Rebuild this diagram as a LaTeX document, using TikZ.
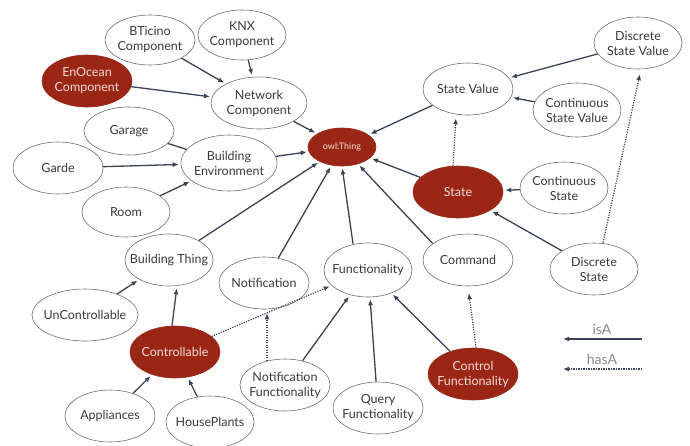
\documentclass[tikz,border=0pt]{standalone}
\usepackage{fontspec}
\setmainfont{Lato}
\usetikzlibrary{shapes.geometric,arrows.meta,calc}
\definecolor{edgec}{HTML}{3B4254}
\definecolor{redc}{HTML}{9A2616}
\definecolor{rtext}{HTML}{F4DCD4}
\definecolor{ntext}{HTML}{3A3A3A}
\definecolor{bord}{HTML}{6E6E6E}
\definecolor{legc}{HTML}{8A8A8A}
\tikzset{
  ell/.style={ellipse, draw=bord, line width=0.6pt, fill=white, minimum width=89pt, minimum height=52pt, inner sep=0pt},
  rell/.style={ellipse, draw=redc, line width=0.6pt, fill=redc, minimum width=90pt, minimum height=52pt, inner sep=0pt},
  lbltxt/.style={align=center, text=ntext, font=\fontsize{12.5}{15}\selectfont, inner sep=0pt},
  lb/.style={label={[lbltxt]center:#1}},
  rlb/.style={label={[lbltxt,text=rtext]center:#1}},
  isa/.style={draw=edgec, line width=1.3pt, -{Latex[length=6pt,width=5pt]}, shorten >=2pt},
  hasa/.style={draw=edgec, line width=1.2pt, dash pattern=on 1.2pt off 1.3pt, -{Latex[length=6pt,width=5pt]}, shorten >=2pt},
  plain/.style={draw=edgec, line width=1.3pt},
}
\begin{document}
\begin{tikzpicture}[x=1pt,y=-1pt]
\useasboundingbox (0,0) rectangle (690,445);
% nodes
\node[ell,minimum width=90pt,minimum height=50pt,lb={BTicino\\Component}] (bt) at (150,40) {};
\node[ell,minimum width=88pt,minimum height=50pt,lb={KNX\\Component}] (knx) at (242,35) {};
\node[rell,minimum width=90pt,minimum height=52pt,rlb={EnOcean\\Component}] (eno) at (87,81) {};
\node[ell,minimum width=96pt,minimum height=52pt,lb={Network\\Component}] (net) at (259,103) {};
\node[ell,minimum width=90pt,minimum height=48pt,lb={Garage}] (gar) at (129,131) {};
\node[ell,minimum width=90pt,minimum height=52pt,lb={Garde}] (gard) at (58,168) {};
\node[ell,minimum width=96pt,minimum height=56pt,lb={Building\\Environment}] (be) at (229,163) {};
\node[ell,minimum width=88pt,minimum height=50pt,lb={Room}] (room) at (126,212) {};
\node[rell,minimum width=68pt,minimum height=38pt,label={[lbltxt,text=rtext,font=\fontsize{9}{11}\selectfont]center:owl:Thing}] (owl) at (342,147) {};
\node[ell,minimum width=90pt,minimum height=52pt,lb={State Value}] (sv) at (468,89) {};
\node[ell,minimum width=88pt,minimum height=52pt,lb={Discrete\\State Value}] (dsv) at (638,43) {};
\node[ell,minimum width=88pt,minimum height=54pt,lb={Continuous\\State Value}] (csv) at (577,110) {};
\node[rell,minimum width=90pt,minimum height=52pt,rlb={State}] (state) at (458,192) {};
\node[ell,minimum width=88pt,minimum height=52pt,lb={Continuous\\State}] (cs) at (564,188) {};
\node[ell,minimum width=88pt,minimum height=52pt,lb={Discrete\\State}] (ds) at (594,269) {};
\node[ell,minimum width=90pt,minimum height=52pt,lb={Command}] (cmd) at (468,260) {};
\node[ell,minimum width=88pt,minimum height=54pt,lb={Functionality}] (func) at (368,270) {};
\node[rell,minimum width=90pt,minimum height=52pt,rlb={Control\\Functionality}] (cf) at (473,374) {};
\node[ell,minimum width=90pt,minimum height=52pt,lb={Query\\Functionality}] (qf) at (378,408) {};
\node[ell,minimum width=88pt,minimum height=52pt,lb={Building Thing}] (bth) at (169,260) {};
\node[ell,minimum width=90pt,minimum height=52pt,lb={Notification}] (notif) at (264,283) {};
\node[ell,minimum width=106pt,minimum height=52pt,lb={UnControllable}] (unc) at (85,315) {};
\node[rell,minimum width=90pt,minimum height=52pt,rlb={Controllable}] (ctrl) at (175,352) {};
\node[ell,minimum width=90pt,minimum height=52pt,lb={Notification\\Functionality}] (nf) at (285,385) {};
\node[ell,minimum width=90pt,minimum height=52pt,lb={Appliances}] (app) at (110,416) {};
\node[ell,minimum width=88pt,minimum height=52pt,lb={HousePlants}] (hp) at (210,422) {};
% isA edges
\draw[isa] (bt) -- (net);
\draw[isa] (knx) -- (net);
\draw[isa] (eno) -- (net);
\draw[isa] (net) -- (owl);
\draw[plain] (gar) -- (be);
\draw[isa] (gard) -- (be);
\draw[isa] (room) -- (be);
\draw[isa] (be) -- (owl);
\draw[isa] (sv) -- (owl);
\draw[isa] (dsv) -- (sv);
\draw[isa] (csv) -- (sv);
\draw[isa] (state) -- (owl);
\draw[isa] (cs) -- (state);
\draw[isa] (ds) -- (state);
\draw[isa] (cmd.155) -- (owl);
\draw[isa] ($(func.north)+(-15,1)$) -- (owl.south);
\draw[isa] (notif) -- (owl);
\draw[isa] (bth) -- (owl);
\draw[isa] (unc) -- (bth);
\draw[isa] ($(ctrl.north)+(-3,0)$) -- ($(bth.south)+(8,0)$);
\draw[isa] (app) -- (ctrl);
\draw[isa] (hp) -- (ctrl);
\draw[isa] (nf) -- (func);
\draw[isa] (qf) -- (func);
\draw[isa] (cf) -- (func);
% hasA edges
\draw[hasa] ($(state.north)+(-5,0)$) -- ($(sv.south)+(-12,1)$);
\draw[hasa,shorten >=5pt] ($(ds.north)+(9,0)$) -- ($(dsv.south)+(3,0)$);
\draw[hasa,shorten >=7pt] ($(cf.north)+(3,0)$) -- (cmd.south);
\draw[hasa] (ctrl) -- (func);
\draw[hasa] ($(nf.north)+(-18,2)$) -- ($(notif.south)+(3,2)$);
% legend
\coordinate (isaR) at (642,339);
\coordinate (isaL) at (563,339);
\coordinate (hasR) at (642,369);
\coordinate (hasL) at (563,369);
\draw[isa,shorten >=0pt] (isaR) -- (isaL);
\draw[hasa,shorten >=0pt] (hasR) -- (hasL);
\node[font=\fontsize{14}{16}\selectfont, text=legc, anchor=base] (isalab) at (602,334) {isA};
\node[font=\fontsize{14}{16}\selectfont, text=legc, anchor=base] (hasalab) at (602,364) {hasA};
\end{tikzpicture}
\end{document}
